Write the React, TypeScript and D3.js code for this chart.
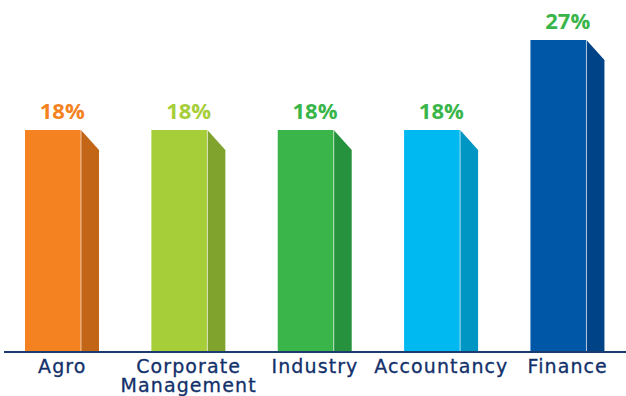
import React from "react";
import * as d3 from "d3";

const categories = ["Agro", "Corporate\nManagement", "Industry", "Accountancy", "Finance"];
const values = [18, 18, 18, 18, 27];
const frontColors = ["#f58220", "#a6ce39", "#39b54a", "#00b9f1", "#0057a8"];
const sideColors = ["#c26516", "#7fa32c", "#26923d", "#0096c4", "#004487"];
const labelColors = ["#f58220", "#a6ce39", "#39b54a", "#39b54a", "#39b54a"];

const W = 626, H = 396;
const baseY = 352;
const frontW = 56, sideW = 18, slant = 20;

export default function App() {
  const x = d3.scaleBand<string>().domain(categories).range([25, 605]).paddingInner(0.41).paddingOuter(0);
  const y = d3.scaleLinear().domain([18, 27]).range([130, 40]);
  return (
    <svg width={W} height={H} style={{ position: "absolute", left: 0, top: 0 }}>
      <rect width={W} height={H} fill="#fff" />
      {categories.map((c, i) => {
        const x0 = x(c)!;
        const top = y(values[i]);
        const xr = x0 + frontW;
        const cx = x0 + x.bandwidth() / 2;
        const lines = c.split("\n");
        return (
          <g key={c}>
            <rect x={x0} y={top} width={frontW} height={baseY - top} fill={frontColors[i]} />
            <path d={`M${xr},${top} L${xr + sideW},${top + slant} L${xr + sideW},${baseY} L${xr},${baseY} Z`} fill={sideColors[i]} />
            <line x1={xr} x2={xr} y1={top} y2={baseY} stroke="#fff" strokeOpacity={0.6} strokeWidth={1} />
            <text x={cx} y={top - 11} textAnchor="middle" fill={labelColors[i]} fontFamily="'Open Sans', sans-serif" fontWeight={700} fontSize={22}>
              {values[i]}%
            </text>
            {lines.map((l, j) => (
              <text key={j} x={cx} y={373 + j * 19} textAnchor="middle" fill="#12306a" fontFamily="'DejaVu Sans', sans-serif" fontWeight={400} fontSize={19} letterSpacing={1.1} stroke="#12306a" strokeWidth={0.3}>
                {l}
              </text>
            ))}
          </g>
        );
      })}
      <line x1={4} x2={626} y1={baseY} y2={baseY} stroke="#1a3c6e" strokeWidth={2} />
    </svg>
  );
}
